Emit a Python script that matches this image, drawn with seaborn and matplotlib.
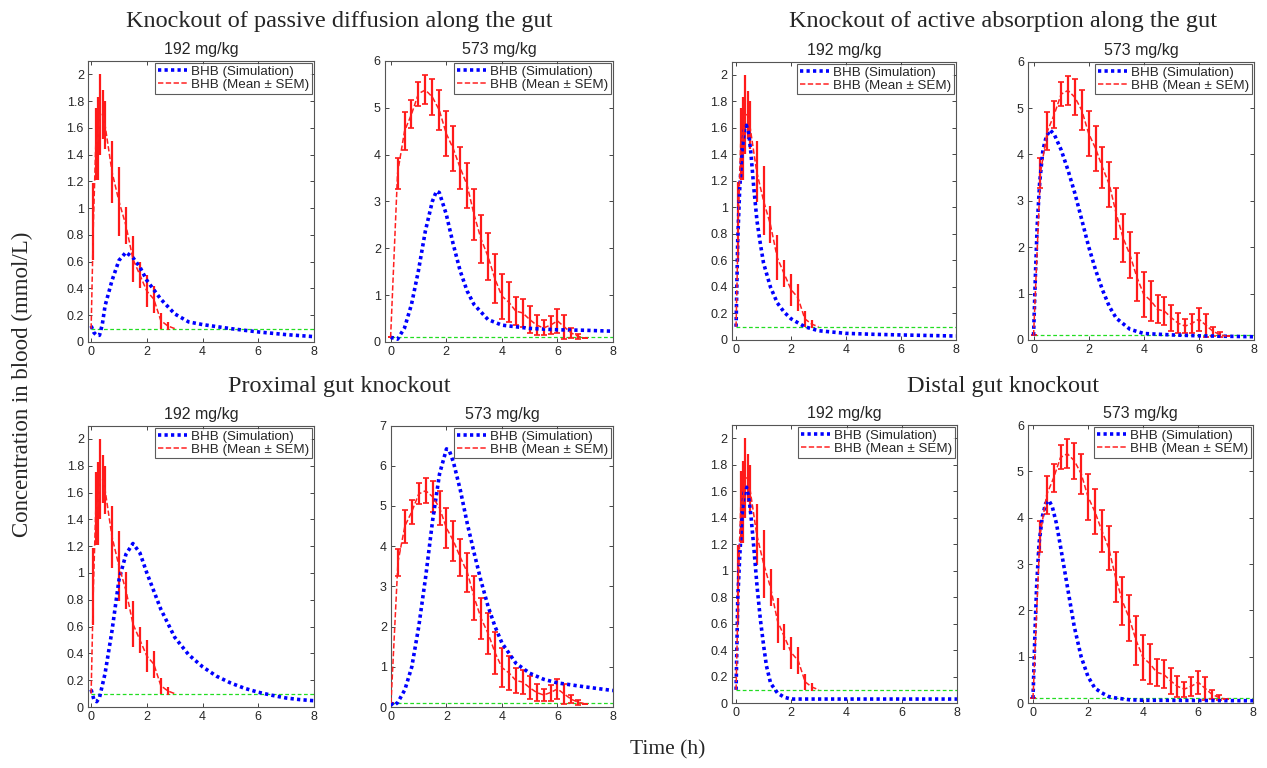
import numpy as np
import pandas as pd
import seaborn as sns
import matplotlib.pyplot as plt

# Experimental BHB data (Mean +- SEM), shared across all knockout panels
exp_t_192 = [0, 0.083, 0.167, 0.25, 0.333, 0.417, 0.5, 0.75, 1.0, 1.25, 1.5, 1.75, 2.0, 2.25, 2.5, 2.75, 3.0]
exp_mean_192 = [0.1, 0.9, 1.48, 1.52, 1.7, 1.7, 1.62, 1.27, 1.05, 0.87, 0.62, 0.5, 0.38, 0.32, 0.16, 0.12, 0.1]
exp_sem_192 = [0, 0.29, 0.27, 0.31, 0.3, 0.18, 0.18, 0.23, 0.26, 0.14, 0.17, 0.1, 0.12, 0.1, 0.06, 0.03, 0]

exp_t_573 = [0, 0.25, 0.5, 0.75, 1.0, 1.25, 1.5, 1.75, 2.0, 2.25, 2.5, 2.75, 3.0, 3.25, 3.5,
             3.75, 4.0, 4.25, 4.5, 4.75, 5.0, 5.25, 5.5, 5.75, 6.0, 6.25, 6.5, 6.75, 7.0]
exp_mean_573 = [0.1, 3.6, 4.5, 4.86, 5.3, 5.38, 5.23, 4.95, 4.45, 4.13, 3.72, 3.35, 2.72, 2.2, 1.83,
                1.35, 0.98, 0.85, 0.66, 0.62, 0.48, 0.36, 0.3, 0.36, 0.45, 0.32, 0.19, 0.12, 0.08]
exp_sem_573 = [0, 0.33, 0.41, 0.3, 0.26, 0.31, 0.39, 0.43, 0.49, 0.49, 0.45, 0.48, 0.55, 0.51, 0.5,
               0.52, 0.48, 0.43, 0.3, 0.3, 0.28, 0.22, 0.16, 0.2, 0.25, 0.25, 0.1, 0.06, 0]

# Simulated BHB curves for each knockout
sim_t_pd192 = [0, 0.1, 0.2, 0.3, 0.4, 0.5, 0.75, 1, 1.25, 1.5, 1.75, 2, 2.5, 3, 3.5, 4, 5, 6, 7, 8]
sim_pd192 = [0.12, 0.07, 0.05, 0.05, 0.13, 0.27, 0.46, 0.61, 0.67, 0.63, 0.56, 0.46, 0.32, 0.21, 0.15, 0.13, 0.10, 0.075, 0.055, 0.04]

sim_t_pd573 = [0, 0.25, 0.5, 0.75, 1, 1.25, 1.5, 1.65, 1.75, 2, 2.25, 2.5, 2.75, 3, 3.5, 4, 5, 6, 7, 8]
sim_pd573 = [0.1, 0.06, 0.3, 0.8, 1.52, 2.37, 3.0, 3.22, 3.19, 2.73, 2.09, 1.52, 1.09, 0.8, 0.48, 0.36, 0.29, 0.26, 0.25, 0.23]

sim_t_aa192 = [0, 0.06, 0.13, 0.22, 0.3, 0.375, 0.46, 0.54, 0.64, 0.76, 0.88, 1, 1.25, 1.5, 1.75, 2, 2.5, 3, 4, 5, 6, 8]
sim_aa192 = [0.1, 0.75, 1.13, 1.43, 1.58, 1.62, 1.56, 1.41, 1.16, 0.9, 0.73, 0.58, 0.4, 0.28, 0.21, 0.16, 0.1, 0.07, 0.05, 0.043, 0.038, 0.03]

sim_t_aa573 = [0, 0.07, 0.13, 0.22, 0.34, 0.46, 0.6, 0.76, 1, 1.25, 1.5, 1.75, 2, 2.25, 2.5, 2.75, 3, 3.5, 4, 5, 6, 8]
sim_aa573 = [0.1, 1.44, 2.44, 3.38, 4.1, 4.38, 4.53, 4.42, 4.1, 3.66, 3.16, 2.59, 2.01, 1.51, 1.08, 0.72, 0.47, 0.23, 0.14, 0.11, 0.09, 0.07]

sim_t_px192 = [0, 0.1, 0.2, 0.3, 0.5, 0.75, 1, 1.25, 1.5, 1.75, 2, 2.5, 3, 3.5, 4, 4.5, 5, 5.5, 6, 6.5, 7, 7.5, 8]
sim_px192 = [0.13, 0.055, 0.04, 0.07, 0.25, 0.57, 0.95, 1.14, 1.22, 1.15, 1.0, 0.73, 0.52, 0.39, 0.3, 0.23, 0.18, 0.14, 0.11, 0.087, 0.067, 0.055, 0.047]

sim_t_px573 = [0, 0.1, 0.25, 0.5, 0.75, 1, 1.25, 1.5, 1.75, 2, 2.1, 2.25, 2.5, 2.75, 3, 3.25, 3.5, 3.75, 4, 4.5, 5, 5.5, 6, 7, 8]
sim_px573 = [0.1, 0.03, 0.12, 0.43, 1.0, 2.0, 3.24, 4.64, 5.8, 6.42, 6.38, 6.09, 5.39, 4.56, 3.82, 3.12, 2.5, 2.0, 1.59, 1.09, 0.84, 0.69, 0.6, 0.5, 0.41]

sim_t_ds192 = [0, 0.06, 0.13, 0.22, 0.3, 0.38, 0.46, 0.54, 0.64, 0.76, 0.88, 1, 1.1, 1.25, 1.5, 1.75, 2, 8]
sim_ds192 = [0.1, 0.78, 1.1, 1.43, 1.6, 1.63, 1.56, 1.41, 1.18, 0.88, 0.63, 0.43, 0.28, 0.15, 0.075, 0.043, 0.03, 0.03]

sim_t_ds573 = [0, 0.07, 0.13, 0.22, 0.34, 0.46, 0.58, 0.7, 0.85, 1, 1.25, 1.5, 1.75, 2, 2.25, 2.5, 2.75, 3, 3.5, 4, 8]
sim_ds573 = [0.1, 1.5, 2.5, 3.45, 4.02, 4.31, 4.37, 4.24, 3.88, 3.38, 2.51, 1.65, 1.0, 0.57, 0.32, 0.22, 0.14, 0.11, 0.07, 0.06, 0.05]

group_titles = ['Knockout of passive diffusion along the gut', 'Knockout of active absorption along the gut',
                'Proximal gut knockout', 'Distal gut knockout']
detection_limit = 0.1

sns.set_style('ticks')
plt.rcParams['font.family'] = ['Liberation Sans', 'DejaVu Sans']

fig = plt.figure(figsize=(12.67, 7.68), dpi=100)

# panel boxes [left, bottom, width, height], plus x-lim start and y max
panels = [
    ([0.0695, 0.5547, 0.1784, 0.3660], -0.11, 2.1, sim_t_pd192, sim_pd192, '192'),
    ([0.3039, 0.5547, 0.1800, 0.3660], -0.2, 6, sim_t_pd573, sim_pd573, '573'),
    ([0.5777, 0.5573, 0.1768, 0.3624], -0.15, 2.1, sim_t_aa192, sim_aa192, '192'),
    ([0.8114, 0.5573, 0.1784, 0.3624], -0.2, 6, sim_t_aa573, sim_aa573, '573'),
    ([0.0695, 0.0794, 0.1784, 0.3665], -0.11, 2.1, sim_t_px192, sim_px192, '192'),
    ([0.3086, 0.0794, 0.1752, 0.3665], 0, 7, sim_t_px573, sim_px573, '573'),
    ([0.5777, 0.0846, 0.1776, 0.3620], -0.15, 2.1, sim_t_ds192, sim_ds192, '192'),
    ([0.8114, 0.0846, 0.1776, 0.3620], -0.18, 6, sim_t_ds573, sim_ds573, '573'),
]

for box, x0, ymax, st, sv, dose in panels:
    ax = fig.add_axes(box)
    if dose == '192':
        et, em, es, cap = exp_t_192, exp_mean_192, exp_sem_192, 0
    else:
        et, em, es, cap = exp_t_573, exp_mean_573, exp_sem_573, 2.5
    sim_df = pd.DataFrame({'t': st, 'c': sv})
    exp_df = pd.DataFrame({'t': et, 'c': em})
    # limit of detection line
    ax.plot([0, 8], [detection_limit, detection_limit], color='#22dd22', lw=0.9, ls=(0, (3, 2)), zorder=1)
    ax.errorbar(et, em, yerr=es, fmt='none', ecolor='#ff1a1a', elinewidth=1.6, capsize=cap, capthick=1.2, zorder=2)
    sns.lineplot(x='t', y='c', data=sim_df, ax=ax, color='#0000ff', lw=2.6, ls=(0, (0.9, 0.9)),
                 label='BHB (Simulation)', zorder=3)
    sns.lineplot(x='t', y='c', data=exp_df, ax=ax, color='#ff2020', lw=1.1, ls=(0, (3.5, 1.6)),
                 label='BHB (Mean \u00b1 SEM)', zorder=4)
    ax.set_xlim(x0, 8)
    ax.set_ylim(0, ymax)
    ax.set_xticks([0, 2, 4, 6, 8])
    if ymax < 3:
        yt = np.round(np.arange(0, 2.01, 0.2), 1)
        ax.set_yticks(yt)
        ax.set_yticklabels(['0' if v == 0 else ('%g' % v) for v in yt])
    else:
        ax.set_yticks(range(0, int(ymax) + 1))
    ax.set_xlabel('')
    ax.set_ylabel('')
    ax.tick_params(direction='in', top=True, right=True, labelsize=9, length=3, width=0.6, pad=3)
    for s in ax.spines.values():
        s.set_linewidth(0.8)
        s.set_color('#555555')
    ax.set_title(dose + ' mg/kg', fontsize=11.5, pad=5)
    leg = ax.legend(loc='upper right', fontsize=9.6, frameon=True, fancybox=False,
                    borderpad=0.2, handlelength=2.2, handletextpad=0.3, labelspacing=0.05,
                    borderaxespad=0.15)
    leg.get_frame().set_edgecolor('#333333')
    leg.get_frame().set_linewidth(0.8)

serif = ['Liberation Serif', 'DejaVu Serif']
fig.text(0.268, 0.972, group_titles[0], ha='center', va='center', fontsize=17.5, family=serif)
fig.text(0.792, 0.972, group_titles[1], ha='center', va='center', fontsize=17.5, family=serif)
fig.text(0.268, 0.497, group_titles[2], ha='center', va='center', fontsize=17.5, family=serif)
fig.text(0.792, 0.497, group_titles[3], ha='center', va='center', fontsize=17.5, family=serif)
fig.text(0.018, 0.5, 'Concentration in blood (mmol/L)', rotation=90, ha='center', va='center',
         fontsize=16.5, family=serif)
fig.text(0.527, 0.023, 'Time (h)', ha='center', va='center', fontsize=15.5, family=serif)

fig.savefig('out.png', dpi=100)
